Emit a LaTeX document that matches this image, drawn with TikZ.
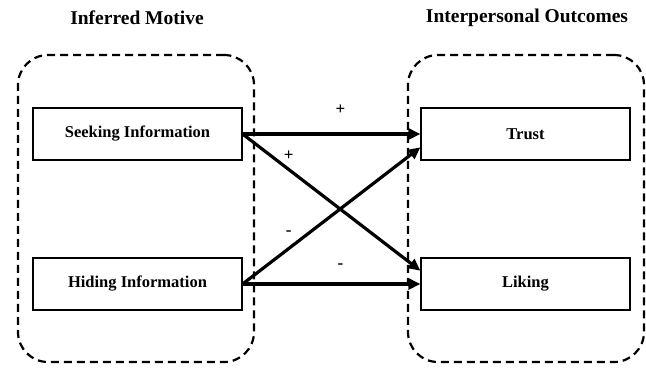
\documentclass[tikz,border=0pt]{standalone}
\usepackage{fontspec}
\setmainfont{Liberation Serif}
\usetikzlibrary{positioning,arrows.meta,calc}

\begin{document}
\begin{tikzpicture}[
		x=1pt,y=-1pt,
		% styles
		varbox/.style={draw, line width=1.2pt, minimum width=209pt, minimum height=52pt, inner sep=0pt,
			font=\bfseries\fontsize{16.5}{19}\selectfont},
		groupbox/.style={draw, line width=2.2pt, dash pattern=on 8pt off 5pt, rounded corners=30pt,
			minimum width=236pt, minimum height=307pt},
		heading/.style={font=\bfseries\fontsize{19.5}{23}\selectfont},
		link/.style={line width=3.2pt, -{Triangle[length=12pt,width=11pt]}},
		sign/.style={font=\bfseries\fontsize{17}{20}\selectfont, inner sep=0pt}
		]
		\useasboundingbox (0,0) rectangle (646,368);
		% dashed groups
		\node[groupbox] (motive) at (136,208.5) {};
		\node[groupbox] (outcome) at (526,208.5) {};
		\node[heading] (motivetitle) at (137,18) {Inferred Motive};
		\node[heading] (outcometitle) at (527,18) {Interpersonal Outcomes};
		% variables
		\node[varbox] (seek) at (137.5,134) {Seeking Information};
		\node[varbox] (hide) at (137.5,284) {Hiding Information};
		\node[varbox] (trust) at (525.5,134) {Trust};
		\node[varbox] (liking) at (525.5,284) {Liking};
		% paths
		\draw[link] (seek.east) -- (trust.west)
			node[sign, pos=0.55, yshift=24pt] {+};
		\draw[link] (seek.east) -- ($(liking.west)!0.5!(liking.north west)$)
			node[sign, pos=0.26, yshift=14pt] {+};
		\draw[link] (hide.east) -- ($(trust.west)!0.5!(trust.south west)$)
			node[sign, pos=0.26, yshift=15pt] {-};
		\draw[link] (hide.east) -- (liking.west)
			node[sign, pos=0.55, yshift=18pt] {-};
	\end{tikzpicture}
\end{document}
